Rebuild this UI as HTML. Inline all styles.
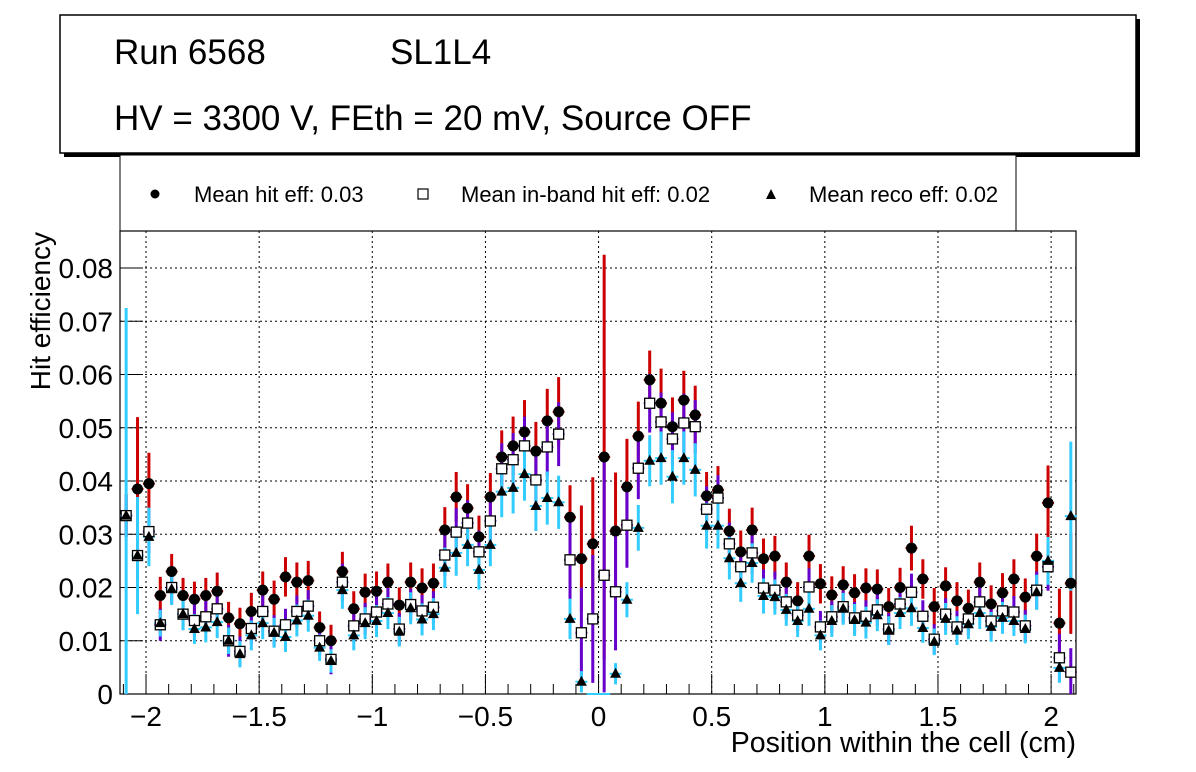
<!DOCTYPE html>
<html><head><meta charset="utf-8"><style>
body{margin:0;background:#fff;}
svg{display:block;font-family:"Liberation Sans",sans-serif;}
</style></head><body>
<svg id="chart" width="1196" height="772" viewBox="0 0 1196 772">
<rect x="0" y="0" width="1196" height="772" fill="#fff"/>
<g>
<rect x="64" y="19" width="1076" height="138" fill="#000"/>
<rect x="60" y="15" width="1076" height="138" fill="#fff" stroke="#000" stroke-width="1.5"/>
<text x="114" y="64" font-size="35">Run 6568</text>
<text x="390" y="64" font-size="35">SL1L4</text>
<text x="114" y="130" font-size="35">HV = 3300 V, FEth = 20 mV, Source OFF</text>
</g>
<g>
<rect x="120" y="155" width="896" height="76" fill="#fff" stroke="#000" stroke-width="1"/>
<g><circle cx="155" cy="194" r="4.5" fill="#000"/><text x="194" y="202" font-size="22">Mean hit  eff: 0.03</text></g>
<g><rect x="418" y="189" width="10" height="10" fill="#fff" stroke="#000" stroke-width="1.2"/><text x="461" y="202" font-size="22">Mean in-band hit eff: 0.02</text></g>
<g><polygon points="771,189 776,199 766,199" fill="#000"/><text x="809" y="202" font-size="22">Mean reco eff: 0.02</text></g>
</g>
<g id="plot"></g>
<text x="1076" y="752" font-size="28.5" text-anchor="end">Position within the cell (cm)</text>
<text transform="translate(50,232) rotate(-90)" font-size="28" text-anchor="end">Hit efficiency</text>
</svg>
<script>
const hitEff=[0.0335,0.0385,0.0395,0.0185,0.023,0.0185,0.0178,0.0185,0.0193,0.0143,0.0132,0.0155,0.0195,0.0178,0.022,0.021,0.0213,0.0125,0.010,0.023,0.016,0.0191,0.0193,0.021,0.0167,0.021,0.0199,0.0208,0.0308,0.037,0.0349,0.0295,0.037,0.0445,0.0466,0.0492,0.0456,0.0513,0.053,0.0332,0.0254,0.0282,0.0445,0.0306,0.0389,0.0484,0.059,0.0546,0.0502,0.0552,0.0524,0.0372,0.0383,0.0306,0.0267,0.0308,0.0254,0.0259,0.021,0.0175,0.0259,0.0207,0.0186,0.0205,0.019,0.0199,0.0197,0.0164,0.020,0.0274,0.0216,0.0164,0.0203,0.0175,0.0161,0.021,0.0169,0.019,0.0216,0.0182,0.0259,0.0359,0.0133,0.0208];
const bandEff=[0.0335,0.026,0.0305,0.013,0.020,0.015,0.0138,0.0145,0.016,0.010,0.008,0.0123,0.0155,0.0118,0.013,0.0155,0.0165,0.010,0.0065,0.021,0.0128,0.0141,0.0154,0.0169,0.0122,0.0168,0.0156,0.0163,0.0261,0.0304,0.0321,0.0267,0.0325,0.0423,0.044,0.0466,0.0402,0.0464,0.0488,0.0252,0.0115,0.0141,0.0223,0.0192,0.0317,0.0424,0.0546,0.0511,0.0479,0.0509,0.0502,0.0347,0.0368,0.0282,0.0239,0.0265,0.0199,0.0195,0.0173,0.0148,0.0201,0.0126,0.0145,0.0164,0.0143,0.0146,0.0158,0.0122,0.0169,0.0191,0.0146,0.0103,0.015,0.0126,0.0141,0.0173,0.0137,0.0156,0.0154,0.0128,0.0195,0.0239,0.0068,0.0041];
const recoEff=[0.0335,0.026,0.0295,0.0133,0.0197,0.015,0.0122,0.0125,0.0135,0.010,0.0075,0.011,0.0133,0.0115,0.0107,0.0138,0.0147,0.0087,0.0062,0.0195,0.011,0.0133,0.0137,0.0152,0.0117,0.0161,0.014,0.015,0.0237,0.0265,0.028,0.0233,0.028,0.038,0.0387,0.0413,0.0353,0.0368,0.036,0.0141,0.0023,0,0,0.0038,0.0177,0.0312,0.0438,0.0443,0.0408,0.0443,0.0421,0.0316,0.0316,0.0255,0.0208,0.0246,0.0184,0.0182,0.0158,0.0137,0.016,0.011,0.0137,0.016,0.0139,0.0134,0.0148,0.0119,0.0152,0.0161,0.0124,0.0098,0.0141,0.0119,0.0131,0.0152,0.0126,0.0143,0.0137,0.0122,0.0191,0.025,0.0049,0.0334];
const hitErr=[0.004,0.0135,0.0058,0.0035,0.0033,0.0033,0.0033,0.0033,0.0035,0.003,0.003,0.0035,0.0035,0.0035,0.0037,0.0037,0.0037,0.003,0.003,0.0037,0.0033,0.0035,0.0037,0.0035,0.0033,0.0037,0.0037,0.0037,0.0043,0.0047,0.0045,0.004,0.0045,0.005,0.0055,0.006,0.0055,0.006,0.0065,0.006,0.01,0.0125,0.038,0.011,0.009,0.0065,0.0055,0.0065,0.0055,0.0055,0.0055,0.0045,0.0045,0.0042,0.004,0.0042,0.0038,0.0038,0.0037,0.0035,0.004,0.0037,0.0035,0.0035,0.0035,0.0037,0.0037,0.0035,0.0037,0.0042,0.0037,0.0035,0.0035,0.0035,0.0035,0.0037,0.0035,0.0037,0.0037,0.0035,0.0042,0.007,0.0065,0.0095];
const bandErr=[0.004,0.0045,0.004,0.003,0.003,0.003,0.003,0.003,0.003,0.003,0.0028,0.003,0.003,0.003,0.003,0.003,0.003,0.0028,0.0028,0.0035,0.003,0.003,0.003,0.003,0.003,0.003,0.003,0.003,0.004,0.0045,0.0043,0.004,0.0043,0.0048,0.005,0.0055,0.005,0.0055,0.006,0.0075,0.0085,0.012,0.022,0.011,0.008,0.0058,0.0055,0.0055,0.005,0.0055,0.005,0.0043,0.0043,0.004,0.0037,0.004,0.0035,0.0035,0.0033,0.003,0.0035,0.003,0.003,0.003,0.003,0.003,0.003,0.003,0.003,0.0035,0.003,0.0028,0.003,0.003,0.003,0.003,0.003,0.003,0.003,0.003,0.0035,0.0045,0.0045,0.0045];
const recoErr=[0.039,0.011,0.0055,0.0025,0.003,0.003,0.0028,0.0028,0.003,0.0025,0.0025,0.0028,0.003,0.0028,0.0028,0.003,0.003,0.0025,0.0022,0.0035,0.0028,0.003,0.003,0.003,0.0028,0.003,0.003,0.003,0.0038,0.0043,0.004,0.0037,0.004,0.0048,0.0048,0.005,0.0047,0.005,0.005,0.0038,0.002,0,0,0.002,0.0033,0.0043,0.0048,0.005,0.005,0.005,0.005,0.0043,0.0043,0.004,0.0035,0.0037,0.0033,0.0033,0.003,0.003,0.0032,0.0028,0.003,0.003,0.003,0.003,0.003,0.0027,0.003,0.0033,0.0028,0.0025,0.003,0.0027,0.0028,0.003,0.0028,0.003,0.0028,0.0027,0.0033,0.0045,0.0028,0.014];
const binLo=-2.113, binWidth=0.0503;
const xTicks=[-2,-1.5,-1,-0.5,0,0.5,1,1.5,2];
const xTickLabels=["\u22122","\u22121.5","\u22121","\u22120.5","0","0.5","1","1.5","2"];
const yTicks=[0,0.01,0.02,0.03,0.04,0.05,0.06,0.07,0.08];
const yTickLabels=["0","0.01","0.02","0.03","0.04","0.05","0.06","0.07","0.08"];

const NS="http://www.w3.org/2000/svg";
const L=120,R=1076,T=231,B=694,xmin=-2.115,xmax=2.11,ymin=0,ymax=0.08695;
const X=v=>L+(v-xmin)/(xmax-xmin)*(R-L);
const Y=v=>B-(v-ymin)/(ymax-ymin)*(B-T);
const plot=document.getElementById('plot');
function mk(tag,attrs,parent){const e=document.createElementNS(NS,tag);for(const k in attrs)e.setAttribute(k,attrs[k]);(parent||plot).appendChild(e);return e;}
const grid=mk('g',{});


xTicks.forEach(t=>mk('line',{x1:X(t),x2:X(t),y1:T,y2:B,stroke:'#000','stroke-width':1,'stroke-dasharray':'2,3'},grid));
yTicks.forEach(t=>{if(t>0)mk('line',{x1:L,x2:R,y1:Y(t),y2:Y(t),stroke:'#000','stroke-width':1,'stroke-dasharray':'2,3'},grid);});
const fr=mk('rect',{x:L,y:T,width:R-L,height:B-T,fill:'none',stroke:'#000','stroke-width':1.2});


const ax=mk('g',{});


for(let v=-2.1;v<=2.101;v+=0.1){const m=Math.abs(v*2-Math.round(v*2))<1e-6;mk('line',{x1:X(v),x2:X(v),y1:B,y2:B-(m?20:10),stroke:'#000','stroke-width':1},ax);}
yTicks.forEach(t=>mk('line',{x1:L,x2:L+23,y1:Y(t),y2:Y(t),stroke:'#000','stroke-width':1},ax));
xTicks.forEach((t,i)=>{const e=mk('text',{x:X(t),y:726,'font-size':28,'text-anchor':'middle'},ax);e.textContent=xTickLabels[i];

});
yTicks.forEach((t,i)=>{const e=mk('text',{x:113,y:Y(t)+10,'font-size':28,'text-anchor':'end'},ax);e.textContent=yTickLabels[i];

});
const clipY=v=>Math.max(T,Math.min(B,Y(v)));
function errs(vals,err,color,name){const g=mk('g',{});


vals.forEach((v,i)=>{const x=X(binLo+binWidth*(i+0.5));
mk('line',{x1:x,x2:x,y1:clipY(v-err[i]),y2:clipY(v+err[i]),stroke:color,'stroke-width':3},g);
mk('line',{x1:x-6,x2:x+6,y1:Y(v),y2:Y(v),stroke:color,'stroke-width':2},g);});}
errs(hitEff,hitErr,'#cc0000','hit-error-bars');
errs(bandEff,bandErr,'#6600cc','inband-error-bars');
errs(recoEff,recoErr,'#33ccff','reco-error-bars');
const gh=mk('g',{});


hitEff.forEach((v,i)=>{const x=X(binLo+binWidth*(i+0.5));const c=mk('circle',{cx:x,cy:Y(v),r:5.5,fill:'#000'},gh);

});
const gb=mk('g',{});


bandEff.forEach((v,i)=>{const x=X(binLo+binWidth*(i+0.5));const r=mk('rect',{x:x-5,y:Y(v)-5,width:10,height:10,fill:'#fff',stroke:'#000','stroke-width':1.3},gb);

});
const gr=mk('g',{});


recoEff.forEach((v,i)=>{if(v<=0)return;const x=X(binLo+binWidth*(i+0.5)),y=Y(v);const p=mk('polygon',{points:`${x},${y-6} ${x+5.5},${y+4} ${x-5.5},${y+4}`,fill:'#000'},gr);

});
</script>
</body></html>
